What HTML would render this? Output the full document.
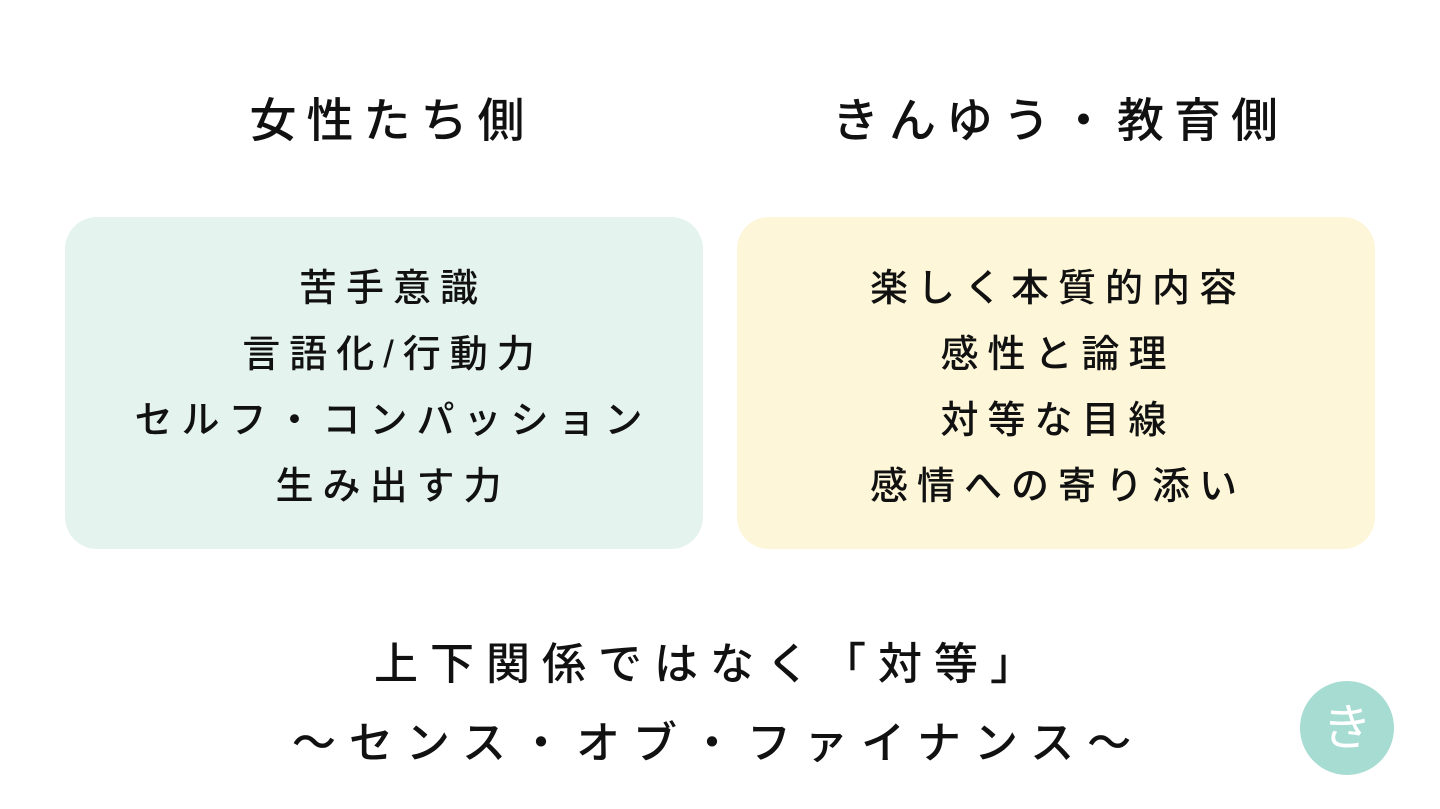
<!DOCTYPE html>
<html><head><meta charset="utf-8"><style>
body{margin:0;width:1440px;height:809px;background:#fff;position:relative;overflow:hidden;font-family:"Liberation Sans","Noto Sans CJK JP",sans-serif;color:#111;font-weight:500}
.t{position:absolute;white-space:nowrap;text-align:center;transform:translateX(-50%)}
.h{font-size:47px;letter-spacing:10px;top:82px}
.box{position:absolute;top:217px;width:638px;height:332px;border-radius:32px}
.b{font-size:38px;letter-spacing:9px;line-height:66px;top:256px}
.f{font-size:44px;letter-spacing:12px}
</style></head><body>
<div class="t h" style="left:392px">女性たち側</div>
<div class="t h" style="left:1060px">きんゆう・教育側</div>
<div class="box" style="left:65px;background:#e5f3ee"></div>
<div class="box" style="left:737px;background:#fdf6d8"></div>
<div class="t b" style="left:393px">苦手意識<br>言語化/行動力<br>セルフ・コンパッション<br>生み出す力</div>
<div class="t b" style="left:1058px">楽しく本質的内容<br>感性と論理<br>対等な目線<br>感情への寄り添い</div>
<div class="t f" style="left:710px;top:628px">上下関係ではなく「対等」</div>
<div class="t f" style="left:718px;top:707px;letter-spacing:13px">〜センス・オブ・ファイナンス〜</div>
<div style="position:absolute;left:1300px;top:681px;width:94px;height:94px;border-radius:50%;background:#a6dcd2;color:#fff;font-size:50px;line-height:94px;text-align:center;font-weight:400">き</div>
</body></html>
